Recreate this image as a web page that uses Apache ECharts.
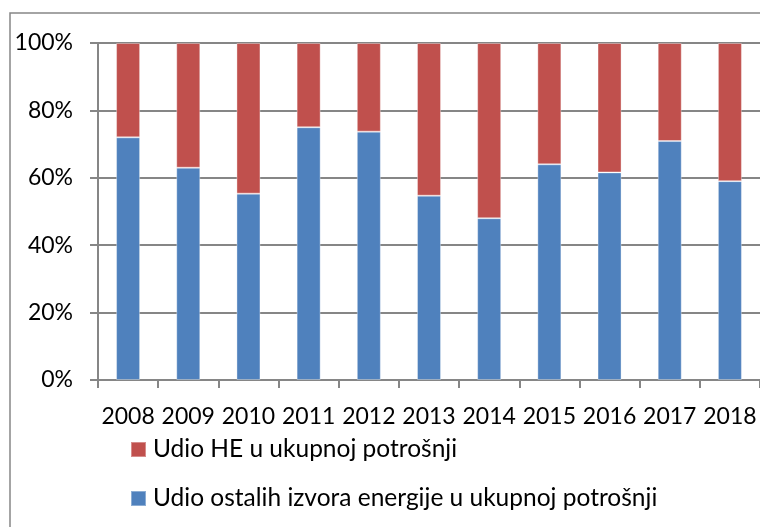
<!DOCTYPE html>
<html>
<head>
<meta charset="utf-8">
<script src="https://cdn.jsdelivr.net/npm/echarts@6/dist/echarts.min.js"></script>
<style>
html,body{margin:0;padding:0;background:#fff;}
#chart{width:760px;height:527px;}
</style>
</head>
<body>
<div id="chart"></div>
<script>
var years = ['2008','2009','2010','2011','2012','2013','2014','2015','2016','2017','2018'];
var udioOstalih = [72, 63, 55.3, 75, 73.7, 54.7, 48, 64, 61.6, 70.9, 59];
var udioHE = [28, 37, 44.7, 25, 26.3, 45.3, 52, 36, 38.4, 29.1, 41];
var yTicks = [0, 20, 40, 60, 80, 100];
var nameHE = 'Udio HE u ukupnoj potrošnji';
var nameOstalih = 'Udio ostalih izvora energije u ukupnoj potrošnji';

var font = 'Lato';
var chart = echarts.init(document.getElementById('chart'));
chart.setOption({
  animation: false,
  backgroundColor: '#ffffff',
  graphic: [{
    type: 'rect',
    shape: { x: 10, y: 13, width: 800, height: 600 },
    style: { fill: 'none', stroke: '#868686', lineWidth: 1.5 },
    silent: true
  }],
  grid: { left: 98, top: 43, width: 667, height: 337 },
  legend: {
    orient: 'vertical',
    left: 130,
    top: 437,
    padding: 0,
    itemWidth: 15,
    itemHeight: 15,
    itemGap: 24,
    icon: 'rect',
    data: [nameHE, nameOstalih],
    textStyle: { fontFamily: font, fontSize: 24.5, color: '#000', lineHeight: 24, padding: [0, 0, 0, 2] }
  },
  xAxis: {
    type: 'category',
    data: years,
    axisLine: { lineStyle: { color: '#868686', width: 2 } },
    axisTick: { show: true, length: 8, lineStyle: { color: '#868686', width: 2 } },
    axisLabel: { interval: 0, margin: 25, fontFamily: font, fontSize: 23, color: '#000' }
  },
  yAxis: {
    type: 'value',
    min: yTicks[0],
    max: yTicks[yTicks.length - 1],
    interval: 20,
    axisLine: { show: true, lineStyle: { color: '#868686', width: 2 } },
    axisTick: { show: true, length: 8, lineStyle: { color: '#868686', width: 2 } },
    splitLine: { lineStyle: { color: '#868686', width: 2 } },
    axisLabel: { margin: 25, fontFamily: font, fontSize: 23, color: '#000', formatter: '{value}%' }
  },
  series: [
    {
      name: nameOstalih,
      type: 'bar',
      stack: 'total',
      barWidth: 24,
      data: udioOstalih,
      itemStyle: { color: '#4F81BD', borderColor: 'rgba(255,255,255,0.35)', borderWidth: 1 }
    },
    {
      name: nameHE,
      type: 'bar',
      stack: 'total',
      barWidth: 24,
      data: udioHE,
      itemStyle: { color: '#C0504D', borderColor: 'rgba(255,255,255,0.35)', borderWidth: 1 }
    }
  ]
});
</script>
</body>
</html>
